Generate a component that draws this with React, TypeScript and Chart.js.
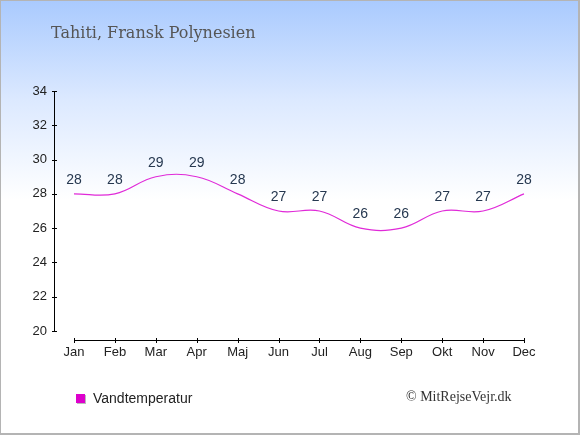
import React, { useRef, useEffect } from "react";
import { Chart, registerables } from "chart.js";

Chart.register(...registerables);

const months = ["Jan", "Feb", "Mar", "Apr", "Maj", "Jun", "Jul", "Aug", "Sep", "Okt", "Nov", "Dec"];
const waterTemp = [28, 28, 29, 29, 28, 27, 27, 26, 26, 27, 27, 28];
const yTicks = [20, 22, 24, 26, 28, 30, 32, 34];

const LINE_COLOR = "#e02ad8";
const LABEL_COLOR = "#263850";
const AXIS_FONT = "Liberation Sans, Arial, sans-serif";

// axis lines sit a bit away from the plot area, like the original
const axesPlugin = {
    id: "offsetAxes",
    afterDraw(chart: any) {
        const { ctx, chartArea, scales } = chart;
        const yLineX = chartArea.left - 19.5;
        const xLineY = chartArea.bottom + 9.5;
        ctx.save();
        ctx.strokeStyle = "#000";
        ctx.lineWidth = 1;
        ctx.beginPath();
        ctx.moveTo(yLineX, chartArea.top);
        ctx.lineTo(yLineX, chartArea.bottom + 0.5);
        yTicks.forEach((t) => {
            const y = Math.round(scales.y.getPixelForValue(t)) + 0.5;
            ctx.moveTo(yLineX - 2.5, y);
            ctx.lineTo(yLineX + 2.5, y);
        });
        ctx.moveTo(chartArea.left, xLineY);
        ctx.lineTo(chartArea.right + 1, xLineY);
        months.forEach((_, i) => {
            const x = Math.round(scales.x.getPixelForValue(i)) + 0.5;
            ctx.moveTo(x, xLineY - 2.5);
            ctx.lineTo(x, xLineY + 2.5);
        });
        ctx.stroke();
        ctx.restore();
    },
};

const valueLabels = {
    id: "valueLabels",
    afterDatasetsDraw(chart: any) {
        const { ctx } = chart;
        const meta = chart.getDatasetMeta(0);
        ctx.save();
        ctx.font = `14px ${AXIS_FONT}`;
        ctx.fillStyle = LABEL_COLOR;
        ctx.textAlign = "center";
        ctx.textBaseline = "middle";
        meta.data.forEach((pt: any, i: number) => {
            ctx.fillText(String(waterTemp[i]), pt.x, pt.y - 14);
        });
        ctx.restore();
    },
};

const App = () => {
    const chartRef = useRef<HTMLCanvasElement>(null);

    useEffect(() => {
        const ctx = chartRef.current?.getContext("2d");
        if (!ctx) return;

        const myChart = new Chart(ctx, {
            type: "line",
            data: {
                labels: months,
                datasets: [
                    {
                        label: "Vandtemperatur",
                        data: waterTemp,
                        borderColor: LINE_COLOR,
                        borderWidth: 1.2,
                        backgroundColor: "transparent",
                        pointRadius: 0,
                        tension: 0.4,
                        fill: false,
                    },
                ],
            },
            options: {
                responsive: false,
                animation: false,
                layout: {
                    padding: { left: 0, top: 91, right: 56, bottom: 74 },
                },
                plugins: {
                    legend: { display: false },
                    tooltip: { enabled: false },
                },
                scales: {
                    x: {
                        offset: false,
                        border: { display: false },
                        grid: { display: false, drawTicks: false },
                        ticks: {
                            color: "#222",
                            padding: 14,
                            maxRotation: 0,
                            autoSkip: false,
                            font: { family: AXIS_FONT, size: 13 },
                        },
                        afterFit: (s: any) => {
                            s.height = 30;
                        },
                    },
                    y: {
                        min: 20,
                        max: 34,
                        border: { display: false },
                        grid: { display: false, drawTicks: false },
                        ticks: {
                            stepSize: 2,
                            color: "#222",
                            padding: 27,
                            font: { family: AXIS_FONT, size: 13 },
                        },
                        afterFit: (s: any) => {
                            s.width = 74;
                        },
                    },
                },
            },
            plugins: [axesPlugin, valueLabels],
        });

        return () => {
            myChart.destroy();
        };
    }, []);

    return (
        <div
            style={{
                position: "absolute",
                left: 0,
                top: 0,
                width: 580,
                height: 435,
                background: "linear-gradient(to bottom, #a9cafe 0px, #dce9ff 100px, #ffffff 200px)",
                overflow: "hidden",
            }}
        >
            <canvas
                ref={chartRef}
                width={580}
                height={435}
                style={{ position: "absolute", left: 0, top: 0, width: 580, height: 435 }}
            ></canvas>
            <div
                style={{
                    position: "absolute",
                    left: 51,
                    top: 25,
                    font: "16px/16px 'DejaVu Serif', serif",
                    color: "#555",
                    whiteSpace: "nowrap",
                }}
            >
                Tahiti, Fransk Polynesien
            </div>
            <div
                style={{
                    position: "absolute",
                    left: 76,
                    top: 394,
                    width: 9,
                    height: 9,
                    background: "#dd00cc",
                    boxShadow: "1px 1px 0 #bbb",
                }}
            ></div>
            <div
                style={{
                    position: "absolute",
                    left: 93,
                    top: 391,
                    font: "14px/14px 'Liberation Sans', Arial, sans-serif",
                    color: "#222",
                    whiteSpace: "nowrap",
                }}
            >
                Vandtemperatur
            </div>
            <div
                style={{
                    position: "absolute",
                    left: 406,
                    top: 390,
                    font: "14px/14px 'Liberation Serif', 'Times New Roman', serif",
                    color: "#333",
                    whiteSpace: "nowrap",
                }}
            >
                © MitRejseVejr.dk
            </div>
            <div
                style={{
                    position: "absolute",
                    left: 0,
                    top: 0,
                    width: 580,
                    height: 435,
                    boxSizing: "border-box",
                    border: "1px solid #b4b4b4",
                    borderRightWidth: 2,
                    borderBottomWidth: 2,
                    pointerEvents: "none",
                }}
            ></div>
        </div>
    );
};

export default App;
